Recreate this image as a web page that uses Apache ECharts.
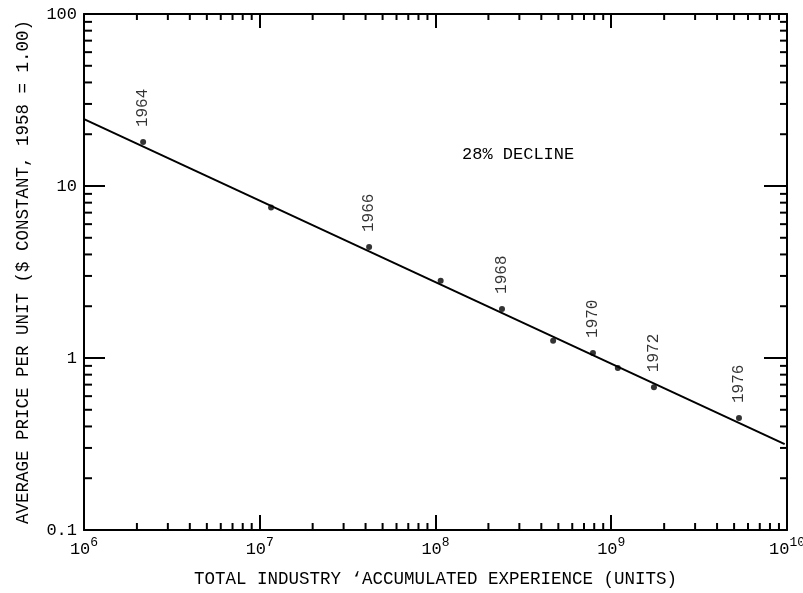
<!DOCTYPE html>
<html>
<head>
<meta charset="utf-8">
<script src="https://cdn.jsdelivr.net/npm/echarts@6/dist/echarts.min.js"></script>
<style>html,body{margin:0;padding:0;background:#fff;}#c{width:803px;height:593px;}</style>
</head>
<body>
<div id="c"></div>
<script>
// Data
var experience = [2.17e6, 1.16e7, 4.19e7, 1.07e8, 2.39e8, 4.67e8, 7.87e8, 1.09e9, 1.75e9, 5.33e9];
var price      = [18.0, 7.5, 4.42, 2.81, 1.93, 1.26, 1.07, 0.875, 0.677, 0.448];
var yearLabels = ['1964', '', '1966', '', '1968', '', '1970', '', '1972', '1976'];
var fitLineX = [1e6, 9.7e9];
var fitLineY = [24.5, 0.316];
var yTickLabels = {'-1': '0.1', '0': '1', '1': '10', '2': '100'};
var xTickExps = {'6': '6', '7': '7', '8': '8', '9': '9', '10': '10'};
var xDecades = [1e6, 1e7, 1e8, 1e9];
var yDecades = [0.1, 1, 10];
var minorMultipliers = [2, 3, 4, 5, 6, 7, 8, 9];

var FONT = "'Liberation Mono', 'DejaVu Sans Mono', monospace";
var INK = '#000';

var points = experience.map(function (x, i) {
  return {
    value: [x, price[i]],
    label: {
      show: yearLabels[i] !== '',
      formatter: yearLabels[i]
    }
  };
});

var minorTicks = [];
xDecades.forEach(function (d) {
  minorMultipliers.forEach(function (m) { minorTicks.push([d * m, 'x']); });
});
yDecades.forEach(function (d) {
  minorMultipliers.forEach(function (m) { minorTicks.push([d * m, 'y']); });
});

var chart = echarts.init(document.getElementById('c'), null, {renderer: 'canvas'});
var axisLineStyle = {color: INK, width: 2};
chart.setOption({
  animation: false,
  backgroundColor: '#fff',
  grid: {left: 84, right: 16, top: 14, bottom: 63, containLabel: false, outerBoundsMode: 'none'},
  xAxis: [{
    type: 'log', logBase: 10, min: 1e6, max: 1e10,
    name: 'TOTAL INDUSTRY \u2018ACCUMULATED EXPERIENCE (UNITS)',
    nameLocation: 'middle', nameGap: 40,
    nameTextStyle: {fontFamily: FONT, fontSize: 17.5, color: INK},
    axisLine: {show: true, lineStyle: axisLineStyle},
    axisTick: {show: true, inside: true, length: 15, lineStyle: {color: INK, width: 2}},
    splitLine: {show: false},
    axisLabel: {
      margin: 6,
      formatter: function (v) {
        var e = Math.round(Math.log10(v));
        return '{b|10}{s|' + xTickExps[String(e)] + '}';
      },
      rich: {
        b: {fontFamily: FONT, fontSize: 17, color: INK, verticalAlign: 'bottom', lineHeight: 22},
        s: {fontFamily: FONT, fontSize: 13, color: INK, verticalAlign: 'top', lineHeight: 22}
      }
    }
  }, {
    type: 'log', logBase: 10, min: 1e6, max: 1e10, position: 'top',
    axisLine: {show: true, lineStyle: axisLineStyle},
    axisTick: {show: true, inside: true, length: 14, lineStyle: {color: INK, width: 2}},
    axisLabel: {show: false}, splitLine: {show: false}
  }],
  yAxis: [{
    type: 'log', logBase: 10, min: 0.1, max: 100,
    name: 'AVERAGE PRICE PER UNIT ($ CONSTANT, 1958 = 1.00)',
    nameLocation: 'middle', nameGap: 52,
    nameTextStyle: {fontFamily: FONT, fontSize: 17.5, color: INK},
    axisLine: {show: true, lineStyle: axisLineStyle},
    axisTick: {show: true, inside: true, length: 21, lineStyle: {color: INK, width: 2}},
    splitLine: {show: false},
    axisLabel: {
      margin: 7, fontFamily: FONT, fontSize: 17, color: INK,
      formatter: function (v) {
        return yTickLabels[String(Math.round(Math.log10(v)))];
      }
    }
  }, {
    type: 'log', logBase: 10, min: 0.1, max: 100, position: 'right',
    axisLine: {show: true, lineStyle: axisLineStyle},
    axisTick: {show: true, inside: true, length: 23, lineStyle: {color: INK, width: 2}},
    axisLabel: {show: false}, splitLine: {show: false}
  }],
  graphic: [{
    type: 'text', left: 462, top: 146,
    style: {text: '28% DECLINE', fontFamily: FONT, fontSize: 17, fill: INK}
  }],
  series: [{
    type: 'line',
    data: [[fitLineX[0], fitLineY[0]], [fitLineX[1], fitLineY[1]]],
    showSymbol: false, symbol: 'none',
    lineStyle: {color: INK, width: 2},
    silent: true, z: 2
  }, {
    type: 'scatter',
    data: points,
    symbol: 'circle', symbolSize: 6,
    itemStyle: {color: INK},
    label: {
      position: 'top', distance: 12, rotate: 90,
      align: 'left', verticalAlign: 'middle',
      fontFamily: FONT, fontSize: 16, color: INK
    },
    z: 3
  }, {
    type: 'custom',
    data: minorTicks,
    silent: true,
    renderItem: function (params, api) {
      var v = api.value(0);
      var kind = minorTicks[params.dataIndex][1];
      var L = 7;
      var a, b;
      if (kind === 'x') {
        a = api.coord([v, 0.1]);
        b = api.coord([v, 100]);
        return {type: 'group', children: [
          {type: 'line', shape: {x1: a[0], y1: a[1], x2: a[0], y2: a[1] - L}, style: {stroke: INK, lineWidth: 2}},
          {type: 'line', shape: {x1: b[0], y1: b[1], x2: b[0], y2: b[1] + L - 1}, style: {stroke: INK, lineWidth: 2}}
        ]};
      } else {
        a = api.coord([1e6, v]);
        b = api.coord([1e10, v]);
        return {type: 'group', children: [
          {type: 'line', shape: {x1: a[0], y1: a[1], x2: a[0] + L + 1, y2: a[1]}, style: {stroke: INK, lineWidth: 2}},
          {type: 'line', shape: {x1: b[0], y1: b[1], x2: b[0] - L, y2: b[1]}, style: {stroke: INK, lineWidth: 2}}
        ]};
      }
    },
    encode: {x: 0, y: -1},
    z: 4
  }]
});
</script>
</body>
</html>
